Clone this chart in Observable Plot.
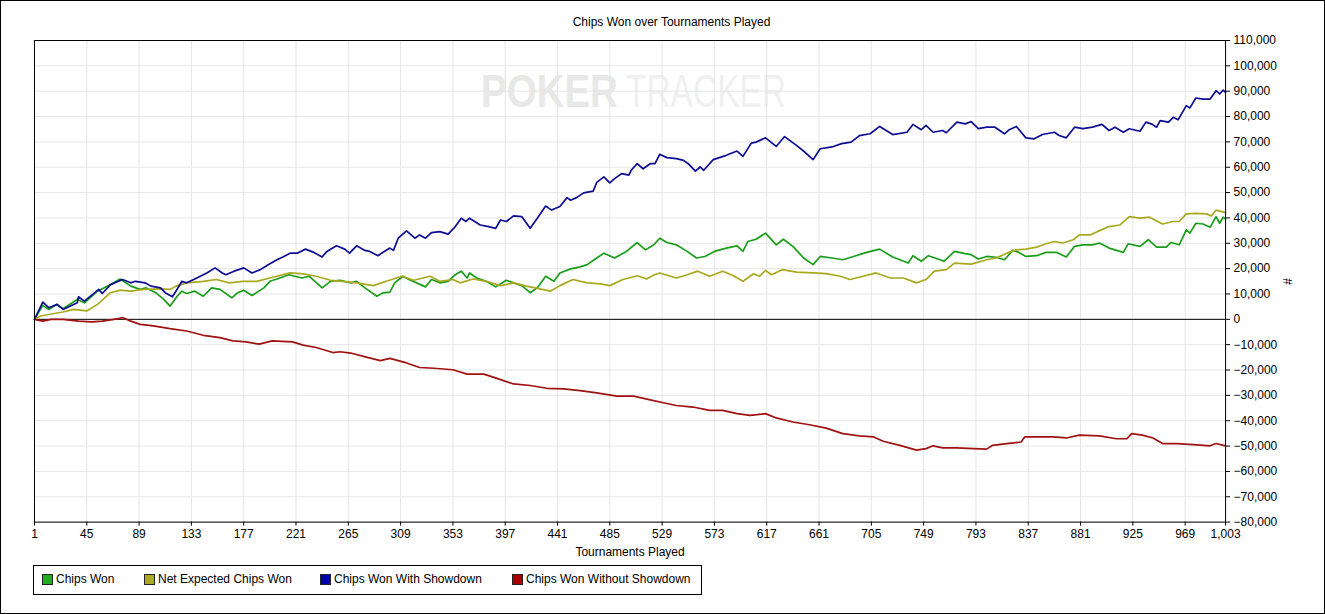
<!DOCTYPE html>
<html><head><meta charset="utf-8">
<script src="https://cdn.jsdelivr.net/npm/d3@7"></script>
<script src="https://cdn.jsdelivr.net/npm/@observablehq/plot@0.6"></script>
<style>
body{margin:0;background:#fff;font-family:"Liberation Sans",Arial,sans-serif;}
#wrap{position:relative;width:1325px;height:614px;box-sizing:border-box;border:1px solid #000;overflow:hidden;background:#fff;}
#title{position:absolute;left:8px;top:14px;width:1325px;text-align:center;font-size:12px;color:#000;}
#wm{position:absolute;left:479px;top:65px;}
#chart{position:absolute;left:-1px;top:29px;}
#legend{position:absolute;left:32px;top:564px;width:669px;height:30px;box-sizing:border-box;border:1px solid #000;font-size:12px;}
.item{position:absolute;top:6px;display:flex;align-items:center;white-space:nowrap;}
.sw{width:9px;height:9px;border:1px solid #222;margin-right:3px;}
</style></head>
<body>
<div id="wrap">
  <div id="title">Chips Won over Tournaments Played</div>
  <svg id="wm" width="340" height="50">
    <g transform="translate(1,41) scale(0.837,1)">
      <text x="0" y="0" font-family="Liberation Sans" font-weight="bold" font-size="46" fill="#e8e8e8">POKER</text>
    </g>
    <g transform="translate(146,41) scale(0.728,1)">
      <text x="0" y="0" font-family="Liberation Sans" font-size="46" fill="#f0f0f0">TRACKER</text>
    </g>
  </svg>
  <div id="chart"></div>
  <div id="legend"></div>
</div>
<script>
const seriesNames = ["Chips Won", "Net Expected Chips Won", "Chips Won With Showdown", "Chips Won Without Showdown"];
const lineColors = ["#1a9e1a", "#a9a91f", "#0d0d94", "#a01212"];
const swatchColors = ["#22aa22", "#aaaa22", "#0000aa", "#aa0000"];
const xTicks = [1,45,89,133,177,221,265,309,353,397,441,485,529,573,617,661,705,749,793,837,881,925,969,1003];
const yTicks = [-80000,-70000,-60000,-50000,-40000,-30000,-20000,-10000,0,10000,20000,30000,40000,50000,60000,70000,80000,90000,100000,110000];

// Chips Won
const wonT = [1,8,13,20,25,37,43,54,65,73,82,90,95,103,110,115,121,125,129,136,143,150,157,167,172,177,184,194,199,205,215,220,226,232,243,250,258,267,272,279,289,294,300,304,311,316,330,335,342,349,355,360,365,367,373,381,389,398,404,411,418,424,431,438,443,452,460,466,474,480,489,499,508,515,522,527,533,541,550,558,565,573,583,592,597,601,608,616,625,631,639,648,656,662,672,681,690,701,712,723,736,740,747,753,761,766,775,784,789,795,802,810,817,824,829,835,844,852,861,869,876,883,891,897,905,917,921,931,938,945,953,957,964,970,973,978,984,990,995,998,1001,1003];
const wonV = [0,5500,3900,5900,4200,7800,6500,11100,13700,15900,13100,11800,12400,10500,7800,5200,9100,11100,10200,11100,9100,12400,11800,8500,10500,11500,9400,12400,15000,15900,17600,17000,16300,17000,12400,15000,15400,14400,15000,12400,9100,10400,10700,14400,17000,15700,12800,15700,14400,15000,17600,19000,16300,18300,16300,15000,12800,15400,14400,13300,10500,12400,17000,15000,18300,19900,20700,21600,24200,26100,24200,26800,30300,27400,29400,32000,30300,29400,26800,24200,24800,26800,28100,29000,26800,30700,31600,34000,29400,31600,28800,24200,21600,24800,24200,23500,24800,26400,27700,24600,22200,25100,22900,25100,23800,22900,26800,25900,25500,23800,24800,24500,23500,27200,26400,24800,25100,26400,26400,24600,28800,29400,29400,30100,28100,26400,29800,28800,31400,28500,28500,30300,29400,35300,34000,37900,37600,36300,40500,37900,40300,39500];

// Net Expected Chips Won
const evT = [1,6,14,25,34,45,54,65,73,82,93,107,115,120,129,143,154,165,176,188,199,216,227,238,250,260,272,286,297,310,320,334,342,353,359,370,381,393,404,415,426,435,443,454,466,477,485,496,508,516,522,527,541,550,559,569,580,589,597,606,611,616,621,630,642,656,667,679,687,698,709,721,732,743,751,758,768,775,789,802,810,819,827,835,844,852,859,866,875,880,889,897,905,914,922,931,939,950,959,964,970,978,987,991,995,1003];
const evV = [0,1300,2000,2900,3900,3300,5900,10500,11500,11100,11800,12000,11800,13100,14400,15000,15700,14400,15000,15000,16300,18300,17900,17000,15400,15000,14400,13300,15000,17000,15400,17000,15000,15700,14400,15900,15000,13300,14400,13100,12000,11100,13300,15700,14400,14000,13300,15700,17200,15900,17500,18300,16300,17600,19000,17000,19000,17200,15000,18000,17000,19300,17600,19600,18600,18300,18000,17000,15700,17000,18300,16300,16300,14400,15700,19000,19600,22200,21800,23500,24200,26100,27400,27700,28500,29800,30700,30100,31400,33300,33300,35000,36600,37200,40500,39900,40300,37600,38600,38600,41600,41800,41600,40800,43100,42100];

// Chips Won With Showdown
const sdT = [1,8,13,20,25,37,38,43,55,58,65,75,82,86,94,99,107,111,117,120,125,129,135,146,153,159,162,169,177,184,191,198,205,210,216,222,229,236,243,247,255,262,266,272,279,283,290,294,300,303,307,314,321,325,330,335,342,349,355,360,364,367,376,383,389,393,398,404,411,418,424,431,436,443,449,452,457,463,471,474,480,485,489,495,501,503,508,513,519,523,527,533,541,547,551,557,561,564,572,583,592,597,604,608,616,625,632,642,649,656,662,672,680,688,695,704,712,723,735,740,747,751,757,765,768,777,784,789,795,802,809,817,821,827,835,842,849,859,863,869,876,883,891,899,905,910,917,922,931,936,941,945,948,955,959,963,970,973,978,984,990,995,998,1001,1003];
const sdV = [0,6800,4600,5900,3900,6500,8900,7200,11800,10200,13700,15700,14400,15000,14400,13100,12400,10500,8900,11100,15000,14400,15700,18300,20300,18300,17600,19000,20300,18300,19600,21600,23500,24600,26100,26100,27700,26400,24600,26800,29000,27700,26100,29000,27200,26800,25100,26400,28100,27200,32000,34900,32000,33300,32000,34200,34600,33600,36600,39900,38600,39900,37200,36600,35900,39200,38600,40800,40500,35900,39900,44700,43100,44500,48000,47000,48000,49900,50600,54000,56200,53800,55500,57500,56900,58800,61400,59400,61400,61400,65100,63800,63400,62700,61400,58500,60100,58800,63000,64700,66400,64300,69500,69900,71600,68200,72100,68600,66000,63000,67300,68000,69300,69900,72500,73200,76100,72900,73800,76900,74800,76500,73800,74500,73600,77800,77100,78000,75200,75800,75800,73200,74800,76100,71600,71200,72900,73800,72500,71600,75800,75200,75800,76900,74500,75800,73800,75200,74200,77800,77000,75800,78400,77800,79700,78700,84300,83400,87300,86900,86900,90200,88900,90400,89500];

// Chips Won Without Showdown
const nsdT = [1,8,15,25,38,49,58,72,75,82,90,101,115,129,143,157,168,179,190,201,218,227,238,252,258,267,281,292,300,314,325,337,353,365,379,390,404,418,432,446,460,474,491,505,519,530,541,555,569,580,592,603,616,625,639,653,667,681,695,707,715,729,743,751,757,765,777,791,802,807,819,831,834,847,858,869,880,897,911,920,924,933,942,950,962,976,990,995,1003];
const nsdV = [0,-700,0,0,-700,-1000,-700,300,700,-700,-2000,-2600,-3700,-4600,-6300,-7200,-8500,-8900,-9800,-8500,-8900,-10200,-11100,-13100,-12800,-13300,-15000,-16300,-15400,-17200,-19000,-19300,-19900,-21600,-21600,-23300,-25500,-26100,-27200,-27400,-28100,-29000,-30300,-30300,-31800,-32900,-34000,-34600,-35900,-35900,-37200,-37900,-37200,-38900,-40500,-41600,-42900,-45100,-46000,-46400,-48100,-49700,-51600,-51000,-49900,-50700,-50700,-51000,-51200,-49700,-49000,-48400,-46400,-46400,-46400,-46800,-45700,-46000,-47100,-47100,-45100,-45700,-46800,-49000,-49000,-49400,-49900,-49000,-49900];

const seriesT = [wonT, evT, sdT, nsdT];
const seriesV = [wonV, evV, sdV, nsdV];
const rows = seriesNames.flatMap((name, k) => seriesT[k].map((t, i) => ({t, v: seriesV[k][i], name})));

const fmt = d3.format(",");
const chart = Plot.plot({
  width: 1325,
  height: 530,
  marginLeft: 34,
  marginRight: 99,
  marginTop: 10,
  marginBottom: 38,
  style: {background: "none", fontFamily: "Liberation Sans, Arial, sans-serif", fontSize: "12px", color: "#000"},
  x: {domain: [1, 1003]},
  y: {domain: [-80000, 110000]},
  color: {domain: seriesNames, range: lineColors},
  marks: [
    Plot.gridX(xTicks, {stroke: "#e6e6e6", strokeOpacity: 1}),
    Plot.gridY(yTicks, {stroke: "#e6e6e6", strokeOpacity: 1}),
    Plot.ruleY([0], {stroke: "#000", strokeWidth: 1}),
    Plot.line(rows, {x: "t", y: "v", z: "name", stroke: "name", strokeWidth: 1.7}),
    Plot.frame({stroke: "#000"}),
    Plot.axisX(xTicks, {tickSize: 4, tickPadding: 3, tickFormat: fmt, label: "Tournaments Played", labelAnchor: "center", labelOffset: 34, labelArrow: "none", fill: "#000"}),
    Plot.axisY(yTicks, {anchor: "right", tickSize: 4, tickPadding: 4, tickFormat: fmt, label: "#", labelAnchor: "center", labelOffset: 66, labelArrow: "none", fill: "#000"})
  ]
});
document.getElementById("chart").appendChild(chart);

const legendX = [8, 110, 286, 478];
const legend = document.getElementById("legend");
seriesNames.forEach((name, i) => {
  const it = document.createElement("div");
  it.className = "item";
  it.style.left = legendX[i] + "px";
  const sw = document.createElement("div");
  sw.className = "sw";
  sw.style.background = swatchColors[i];
  it.appendChild(sw);
  const tx = document.createElement("span");
  tx.textContent = name;
  it.appendChild(tx);
  legend.appendChild(it);
});
</script>
</body></html>
